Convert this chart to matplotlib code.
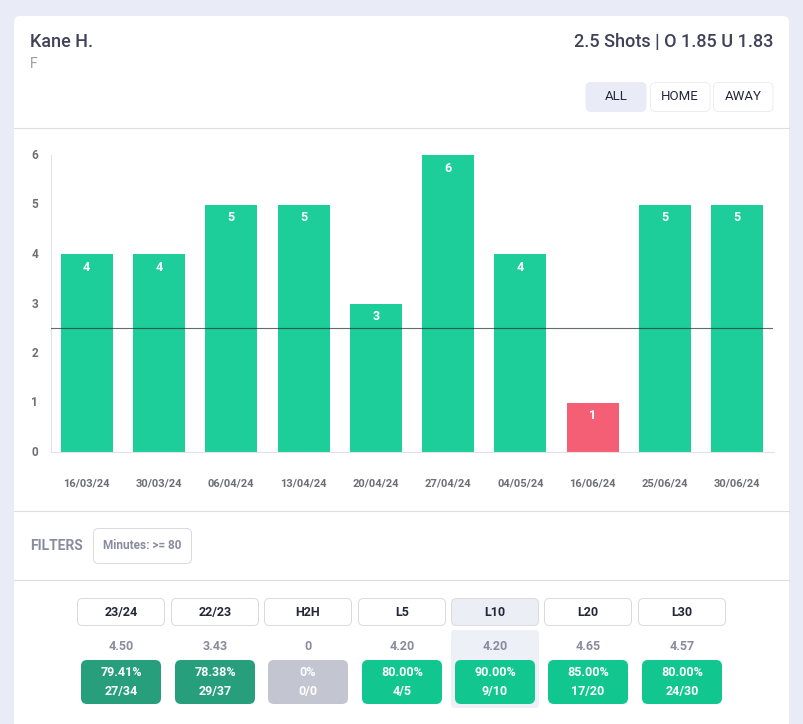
import matplotlib
matplotlib.use('Agg')
import matplotlib.pyplot as plt
from matplotlib.patches import FancyBboxPatch
from matplotlib.transforms import ScaledTranslation

plt.rcParams['font.family'] = ['Roboto', 'DejaVu Sans']

# Chart data
dates = ['16/03/24', '30/03/24', '06/04/24', '13/04/24', '20/04/24',
         '27/04/24', '04/05/24', '16/06/24', '25/06/24', '30/06/24']
shots = [4, 4, 5, 5, 3, 6, 4, 1, 5, 5]
line_value = 2.5

# Summary table below the chart
periods = ['23/24', '22/23', 'H2H', 'L5', 'L10', 'L20', 'L30']
averages = ['4.50', '3.43', '0', '4.20', '4.20', '4.65', '4.57']
percents = ['79.41%', '78.38%', '0%', '80.00%', '90.00%', '85.00%', '80.00%']
ratios = ['27/34', '29/37', '0/0', '4/5', '9/10', '17/20', '24/30']
period_colors = ['#279F7C', '#279F7C', '#C3C5D1', '#11C68F', '#11C68F', '#11C68F', '#11C68F']

GREEN = '#1DCD9A'
RED = '#F55F75'
BG = '#E9ECF6'
DARK = '#41415A'
GREY = '#8B8BA0'

fig = plt.figure(figsize=(8.04, 7.24), dpi=100, facecolor=BG)

# Page layer in pixel coordinates
page = fig.add_axes([0, 0, 1, 1])
page.set_xlim(0, 804)
page.set_ylim(724, 0)
page.axis('off')


def box(x0, y0, x1, y1, r, fc, ec='none', lw=0.7, z=1):
    page.add_patch(FancyBboxPatch((x0 + r, y0 + r), x1 - x0 - 2 * r, y1 - y0 - 2 * r,
                                  boxstyle=f'round,pad={r},rounding_size={r}',
                                  fc=fc, ec=ec, lw=lw, zorder=z))


box(14, 16, 789, 760, 6, 'white')
for y in [127.9, 510.9, 579.9]:
    page.plot([14, 789], [y, y], color='#DDDDE2', lw=0.8, zorder=2)

page.text(30, 42, 'Kane H.', fontsize=13, color=DARK, va='center', weight='medium')
page.text(30, 64, 'F', fontsize=10, color='#9A9AA8', va='center')
page.text(773, 42, '2.5 Shots | O 1.85 U 1.83', fontsize=13, color=DARK,
          va='center', ha='right', weight='medium')

# ALL / HOME / AWAY buttons
for label, x0, x1, active in [('ALL', 586, 646, True), ('HOME', 650.5, 710, False),
                              ('AWAY', 713.5, 773, False)]:
    box(x0, 82.5, x1, 111.5, 5, BG if active else 'white', BG if active else '#EDEDF1', z=2)
    page.text((x0 + x1) / 2, 97, label, fontsize=9.5, color='#26263A', ha='center', va='center', zorder=3)

# Filters
page.text(30, 545.5, 'FILTERS', fontsize=10, color=GREY, va='center', weight='bold')
box(93.5, 528.5, 191.5, 563.5, 5, 'white', '#DADADF', z=2)
page.text(142.5, 545.5, 'Minutes: >= 80', fontsize=8.5, color=GREY, ha='center', va='center',
          weight='bold', zorder=3)

# Period table
centers = [121, 215, 308, 402, 495, 588, 682]
for i, c in enumerate(centers):
    active = periods[i] == 'L10'
    if active:
        box(c - 44, 630, c + 44, 708, 4, '#EEF0F7', z=2)
    box(c - 43.5, 598.5, c + 43.5, 625.5, 5, '#ECEEF6' if active else 'white', '#DADADF', z=3)
    page.text(c, 612.5, periods[i], fontsize=9, color='#26263A', ha='center', va='center', zorder=4,
              weight='bold')
    page.text(c, 647, averages[i], fontsize=9, color=GREY, ha='center', va='center', zorder=4,
              weight='bold')
    box(c - 40, 660, c + 40, 704, 6, period_colors[i], z=3)
    page.text(c, 673, percents[i], fontsize=9, color='white', ha='center', va='center', zorder=4,
              weight='bold')
    page.text(c, 691, ratios[i], fontsize=9, color='white', ha='center', va='center', zorder=4,
              weight='bold')

# Bar chart
ax = fig.add_axes([50.5 / 804, (724 - 452) / 724, 723 / 804, 297 / 724])
ax.patch.set_alpha(0)
colors = [GREEN if v > line_value else RED for v in shots]
ax.bar(range(len(shots)), shots, width=0.72, color=colors, zorder=2)
ax.axhline(line_value, color='#20302C', lw=0.8, alpha=0.7, zorder=3)
for i, v in enumerate(shots):
    ax.text(i, v - 0.27, str(v), color='white', fontsize=9, weight='bold',
            ha='center', va='center', zorder=4)

ax.set_xlim(-0.5, 9.5)
ax.set_ylim(0, 6)
ax.set_xticks(range(len(dates)))
ax.set_xticklabels(dates, fontsize=8, color='#6E6E78', weight='bold')
ax.set_yticks(range(7))
ax.set_yticklabels(range(7), fontsize=8.5, color='#6E6E78', weight='bold')
ax.tick_params(axis='both', length=0)
ax.tick_params(axis='x', pad=19)
ax.tick_params(axis='y', pad=9)
# y labels sit a pixel above their tick in the original
for label in ax.get_yticklabels():
    label.set_transform(label.get_transform() + ScaledTranslation(0, 1 / 100, fig.dpi_scale_trans))
for s in ['top', 'right']:
    ax.spines[s].set_visible(False)
for s in ['left', 'bottom']:
    ax.spines[s].set_color('#E2E2E6')
    ax.spines[s].set_linewidth(0.8)

fig.savefig('out.png', dpi=100, facecolor=BG)
